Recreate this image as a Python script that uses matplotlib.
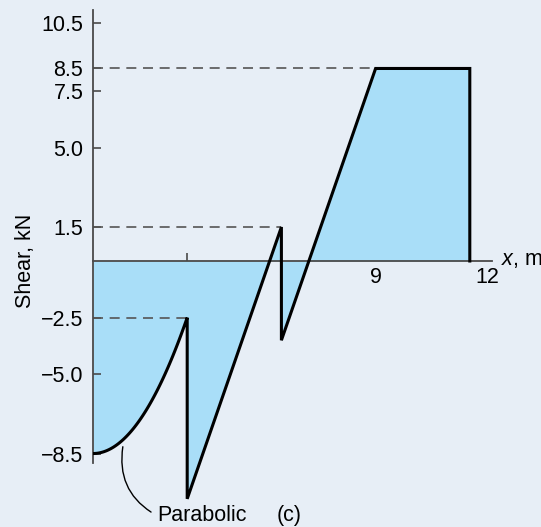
import matplotlib.pyplot as plt
import numpy as np
from matplotlib.transforms import ScaledTranslation

plt.rcParams["font.family"] = ["Liberation Sans", "DejaVu Sans"]
plt.rcParams["mathtext.fontset"] = "custom"
plt.rcParams["mathtext.it"] = "Liberation Sans:italic"
plt.rcParams["mathtext.rm"] = "Liberation Sans"

# 剪力图数据 (kN, m)
v_start = -8.5          # x=0 处剪力
v_parab_end = -2.5      # 抛物线段在 x=3 处的值
x_jump1 = 3.0
v_after_jump1 = -10.5
x_jump2 = 6.0
v_before_jump2 = 1.5
v_after_jump2 = -3.5
x_peak = 9.0
v_peak = 8.5
x_end = 12.0

y_ticks = [-8.5, -5.0, -2.5, 1.5, 5.0, 7.5, 8.5, 10.5]
y_ticklabels = ["\u22128.5", "\u22125.0", "\u22122.5", "1.5", "5.0", "7.5", "8.5", "10.5"]
x_ticks = [9, 12]
x_ticklabels = ["9", "12"]

fill_color = "#a9def8"
bg_color = "#e7eef6"
axis_color = "#4a4a4a"
fs = 15.5

fig = plt.figure(figsize=(5.41, 5.27), dpi=100, facecolor=bg_color)
W, H = 541, 527
# 像素比例: 31.4 px/m, 22.65 px/kN, 原点在 (93, 261)
px_x, px_y = 31.4, 22.65
x0, y0 = 93, 261
xlim = (0, 14.0)
ylim = (-11.2, 11.4)
left = x0 / W
width = (xlim[1] - xlim[0]) * px_x / W
top_px = y0 - ylim[1] * px_y
bottom_px = y0 - ylim[0] * px_y
ax = fig.add_axes([left, 1 - bottom_px / H, width, (bottom_px - top_px) / H])
ax.set_facecolor("none")
ax.set_xlim(*xlim)
ax.set_ylim(*ylim)

# 曲线
xp = np.linspace(0, x_jump1, 60)
vp = v_start + (v_parab_end - v_start) * (xp / x_jump1) ** 2
xs = np.concatenate([xp, [x_jump1, x_jump2, x_jump2, x_peak, x_end, x_end]])
vs = np.concatenate([vp, [v_after_jump1, v_before_jump2, v_after_jump2, v_peak, v_peak, 0]])

ax.fill_between(xs, vs, 0, color=fill_color, lw=0, zorder=1)
ax.plot(xs, vs, color="black", lw=2.2, zorder=3, solid_joinstyle="miter")

# 虚线
for xv, yv in [(x_jump1, v_parab_end), (x_jump2, v_before_jump2), (x_peak, v_peak)]:
    ax.plot([0, xv], [yv, yv], color="#555555", lw=1.2, dashes=(6, 4), zorder=2)

# 坐标轴
for s in ["top", "right"]:
    ax.spines[s].set_visible(False)
ax.spines["left"].set_bounds(-8.9, 11.1)
ax.spines["left"].set_color(axis_color)
ax.spines["left"].set_linewidth(1.3)
ax.spines["bottom"].set_position(("data", 0))
ax.spines["bottom"].set_bounds(0, 12.7)
ax.spines["bottom"].set_color(axis_color)
ax.spines["bottom"].set_linewidth(1.3)
ax.spines["bottom"].set_zorder(2)

ax.set_yticks(y_ticks)
ax.set_yticklabels(y_ticklabels)
ax.tick_params(axis="y", direction="in", length=6, width=1.2, color=axis_color,
               labelsize=fs, pad=7)
ax.set_xticks(x_ticks)
ax.set_xticklabels(x_ticklabels)
ax.set_xticks([3], minor=True)
ax.tick_params(axis="x", which="major", length=0, labelsize=fs, pad=4)
ax.tick_params(axis="x", which="minor", direction="in", length=6, width=1.2,
               color=axis_color)
for lab in ax.get_xticklabels():
    if lab.get_text() == "12":
        lab.set_transform(lab.get_transform() + ScaledTranslation(0.18, 0, fig.dpi_scale_trans))

ax.text(12.99, 0.05, "$x$, m", fontsize=fs, ha="left", va="center")
fig.text(25 / W, 1 - 261 / H, "Shear, kN", rotation=90, fontsize=fs,
         ha="center", va="center")

ax.annotate("Parabolic", xy=(0.95, -8.2), xytext=(2.05, -11.25), fontsize=fs,
            ha="left", va="center",
            arrowprops=dict(arrowstyle="-", color="black", lw=1.0, relpos=(0, 0.5),
                            connectionstyle="arc3,rad=-0.35",
                            shrinkA=3, shrinkB=0),
            annotation_clip=False)
ax.text(6.24, -11.25, "(c)", fontsize=fs, ha="center", va="center")

fig.savefig("out.png", dpi=100, facecolor=bg_color)
